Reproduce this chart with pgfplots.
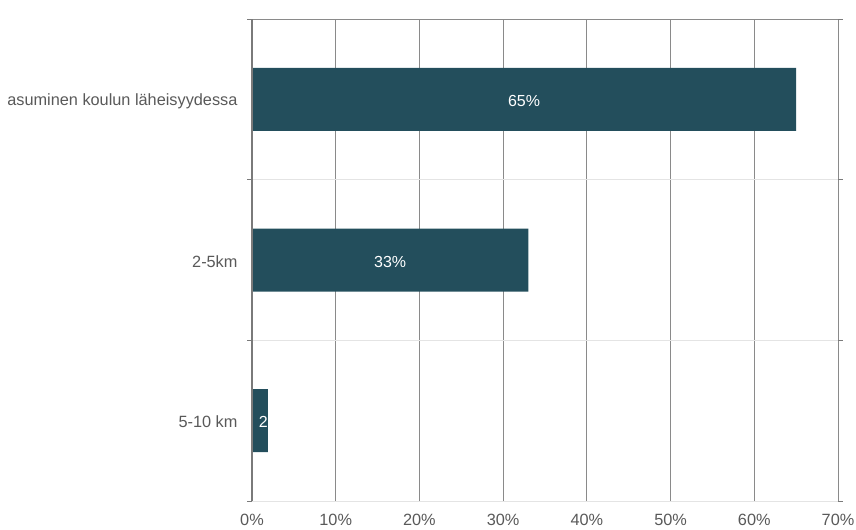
\documentclass[border=0pt]{standalone}
\usepackage{fontspec}
\setmainfont{Liberation Sans}
\usepackage{pgfplots}
\pgfplotsset{compat=1.18}
\definecolor{barc}{HTML}{234E5C}
\definecolor{gridc}{HTML}{8A8A8A}
\definecolor{sepc}{HTML}{E4E4E4}
\definecolor{axc}{HTML}{7A7A7A}
\definecolor{txt}{HTML}{595959}
\begin{document}
\begin{tikzpicture}
\useasboundingbox (0,0) rectangle (856bp,530bp);
\begin{axis}[
  at={(252bp,29bp)}, anchor=south west,
  scale only axis, width=586bp, height=482bp,
  xmin=0, xmax=70, ymin=-0.5, ymax=2.5, y dir=reverse,
  clip=false,
  axis line style={draw=none},
  xtick={0,10,...,70},
  xticklabels={0\%,10\%,20\%,30\%,40\%,50\%,60\%,70\%},
  xmajorgrids=true,
  x grid style={draw=gridc, line width=0.8bp},
  ytick={0,1,2},
  yticklabels={asuminen koulun läheisyydessa,2-5km,5-10 km},
  major tick length=0pt,
  tick align=outside,
  extra y ticks={-0.5,0.5,1.5,2.5},
  extra y tick labels={},
  extra y tick style={grid=major, major grid style={draw=sepc, line width=1bp}, major tick length=5bp, tick style={draw=axc, line width=0.8bp}},
  ticklabel style={txt, font=\fontsize{16.3bp}{19bp}\selectfont},
  xticklabel style={yshift=-10bp},
  yticklabel style={xshift=-11bp, yshift=-1.5bp},
]
\addplot[xbar, bar width=63bp, fill=barc, draw=none] coordinates {(65,0) (33,1) (1.9,2)};
\addplot[only marks, mark=none, point meta=explicit symbolic, nodes near coords,
  every node near coord/.style={anchor=center, yshift=-1.5bp, text=white, font=\fontsize{16bp}{19bp}\selectfont}]
  coordinates {(32.5,0)[65\%] (16.5,1)[33\%] (1.35,2)[2]};
\draw[gridc, line width=1bp] (axis cs:0,-0.5) -- (axis cs:70,-0.5);
\draw[axc, line width=1.6bp] (axis cs:0,-0.5) -- (axis cs:0,2.5);
\end{axis}
\end{tikzpicture}
\end{document}
